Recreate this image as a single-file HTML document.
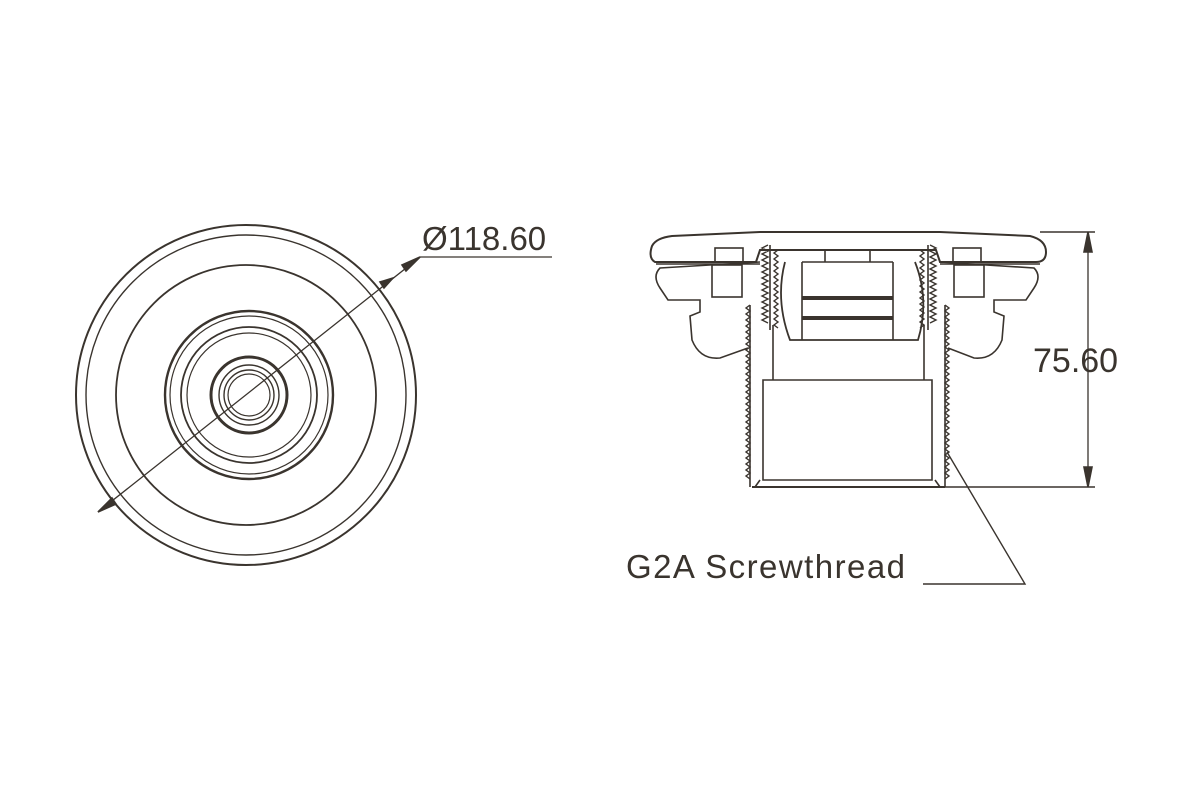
<!DOCTYPE html>
<html><head><meta charset="utf-8"><style>
html,body{margin:0;padding:0;background:#fff;width:1200px;height:800px;overflow:hidden}
svg{display:block}
text{font-family:"Liberation Sans",sans-serif;fill:#3a342e}
</style></head><body>
<svg id="s" width="1200" height="800" viewBox="0 0 1200 800" fill="none" stroke="#3a342e" stroke-width="1.6">
<!-- Left view -->
<g>
<circle cx="246" cy="395" r="170" stroke-width="2"/>
<circle cx="246" cy="395" r="160" stroke-width="1.4"/>
<circle cx="246" cy="395" r="130" stroke-width="1.8"/>
<circle cx="249" cy="395" r="84" stroke-width="2.4"/>
<circle cx="249" cy="395" r="79" stroke-width="1.2"/>
<circle cx="249" cy="395" r="68" stroke-width="1.8"/>
<circle cx="249" cy="395" r="62" stroke-width="1.2"/>
<circle cx="249" cy="395" r="38" stroke-width="3"/>
<circle cx="249" cy="395" r="30" stroke-width="1.4"/>
<circle cx="249" cy="395" r="25" stroke-width="1.4"/>
<circle cx="249" cy="395" r="21" stroke-width="1.2"/>
<polyline points="98,512 420,257 552,257" stroke-width="1.3"/>
<polygon points="98,512 112,498 116,504" fill="#3a342e"/>
<polygon points="393,278 384,288 380,282" fill="#3a342e"/>
<polygon points="420,257 406,271 402,265" fill="#3a342e"/>
</g>
<text x="422" y="250" font-size="33" stroke="none">Ø118.60</text>
<!-- Right view -->
<g id="r">
<path d="M655,262 Q648,258 652,246 Q656,238 672,236 L760,232 L940,232 L1030,236 Q1046,240 1046,252 Q1046,262 1036,262 L940,262 L936,250 L760,250 L756,262 Z" stroke-width="2"/>
<path d="M760,262 L660,268 Q652,276 660,288 L668,300 L700,300 L700,312 L690,316 L692,340 Q700,360 720,358 L748,348"/>
<path d="M940,262 L1034,268 Q1042,276 1034,288 L1026,300 L994,300 L994,312 L1004,316 L1002,340 Q994,360 974,358 L948,348"/>
<rect x="715" y="248" width="28" height="14"/><rect x="712" y="265" width="30" height="32"/>
<rect x="953" y="248" width="28" height="14"/><rect x="954" y="265" width="30" height="32"/>
<line x1="656" y1="264" x2="760" y2="264"/><line x1="940" y1="264" x2="1040" y2="264"/>
<line x1="750" y1="305" x2="750" y2="487"/><line x1="945" y1="305" x2="945" y2="487"/>
<path d="M752,487 L945,487" stroke-width="2"/>
<path d="M763,380 L932,380 L932,480 L763,480 Z"/>
<path d="M760,480 L755,487 M935,480 L940,487"/>
<line x1="773" y1="325" x2="773" y2="380"/><line x1="924" y1="325" x2="924" y2="380"/>
<path d="M785,262 Q775,300 790,340 L918,340 Q930,300 915,262" stroke-width="1.8"/>
<line x1="802" y1="262" x2="802" y2="340"/><line x1="893" y1="262" x2="893" y2="340"/>
<line x1="802" y1="298" x2="893" y2="298" stroke-width="4"/>
<line x1="802" y1="318" x2="893" y2="318" stroke-width="4"/>
<line x1="825" y1="250" x2="825" y2="262"/><line x1="870" y1="250" x2="870" y2="262"/>
<line x1="802" y1="262" x2="893" y2="262"/>
<path d="M770,245 L770,330 M928,245 L928,330"/>
<!-- dimension -->
<line x1="1040" y1="232" x2="1095" y2="232"/>
<line x1="945" y1="487" x2="1095" y2="487"/>
<line x1="1088" y1="232" x2="1088" y2="487" stroke-width="1.3"/>
<polygon points="1088,232 1084,252 1092,252" fill="#3a342e"/>
<polygon points="1088,487 1084,467 1092,467" fill="#3a342e"/>
<polyline points="947,452 1025,584 923,584" stroke-width="1.4"/>
</g>
<text x="1033" y="372" font-size="34" stroke="none">75.60</text>
<text x="626" y="578" font-size="33" stroke="none" textLength="279">G2A Screwthread</text>
</svg>
<script>
var s=document.getElementById('s');
function zig(x,y1,y2,a,step){var p=[];var i=0;for(var y=y1;y<=y2;y+=step){p.push((x+(i%2?a:0))+','+y);i++;}
var e=document.createElementNS('http://www.w3.org/2000/svg','polyline');e.setAttribute('points',p.join(' '));e.setAttribute('stroke-width','1.4');s.appendChild(e);}
zig(750,305,480,-4,3);zig(945,305,480,4,3);
zig(768,245,325,-6,3);zig(930,245,325,6,3);
zig(778,250,330,-4,3);zig(920,250,330,4,3);
</script>
</body></html>
